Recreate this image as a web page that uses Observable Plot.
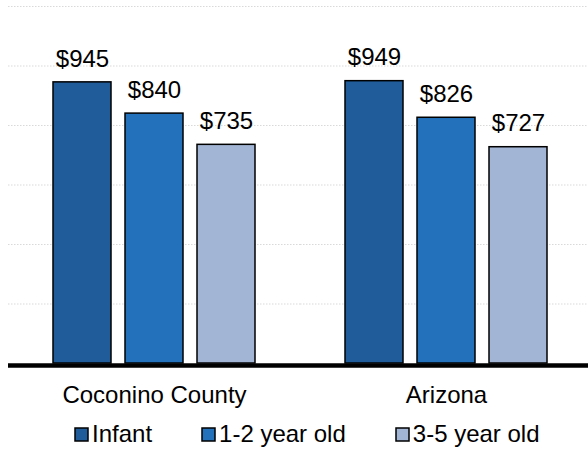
<!DOCTYPE html>
<html>
<head>
<meta charset="utf-8">
<script src="https://cdn.jsdelivr.net/npm/d3@7"></script>
<script src="https://cdn.jsdelivr.net/npm/@observablehq/plot@0.6"></script>
<style>
  html, body { margin: 0; padding: 0; background: #fff; }
  #chart > svg { display: block; }
  .lg-swatches {
    font-family: "Liberation Sans", Arial, sans-serif !important;
    font-size: 24px !important;
    color: #000 !important;
    margin: 5px 0 0 75px !important;
    min-height: 0 !important;
    line-height: normal !important;
    flex-wrap: nowrap !important;
    white-space: nowrap !important;
  }
  .lg-swatch { margin-right: 50px !important; }
  .lg-swatch:last-child { margin-right: 0 !important; }
  .lg-swatch > svg { margin-right: 4px !important; overflow: visible !important; }
  .lg-swatch rect { stroke: #000; stroke-width: 1.5px; }
</style>
</head>
<body>
<div id="chart"></div>
<script>
const regions = ["Coconino County", "Arizona"];
const ageGroups = ["Infant", "1-2 year old", "3-5 year old"];
const infantCost = [945, 949];
const toddlerCost = [840, 826];
const preschoolCost = [735, 727];
const gridTicks = [200, 400, 600, 800, 1000, 1200];
const colors = ["#1F5C99", "#2271BA", "#A3B5D5"];

const seriesValues = [infantCost, toddlerCost, preschoolCost];
const rows = [];
regions.forEach((region, i) => {
  ageGroups.forEach((age, j) => {
    rows.push({region, age, cost: seriesValues[j][i]});
  });
});

const chart = Plot.plot({
  width: 588,
  height: 415,
  marginTop: 6,
  marginBottom: 52,
  marginLeft: 8,
  marginRight: 0,
  style: {
    fontFamily: "Liberation Sans, Arial, sans-serif",
    fontSize: "24px",
    color: "#000",
    background: "#fff"
  },
  fx: {
    domain: regions,
    range: [8, 592],
    padding: 0,
    axis: "bottom",
    tickSize: 0,
    tickPadding: 22,
    label: null
  },
  x: {
    domain: ageGroups,
    range: [52, 256],
    paddingInner: 0.2,
    paddingOuter: 0,
    axis: null
  },
  y: {
    domain: [0, 1200],
    axis: null
  },
  color: {
    domain: ageGroups,
    range: colors
  },
  marks: [
    Plot.ruleY(gridTicks, {stroke: "#d9d9d9", strokeWidth: 1, strokeDasharray: "1.5,1.5"}),
    Plot.barY(rows, {
      fx: "region",
      x: "age",
      y: "cost",
      fill: "age",
      stroke: "#000",
      strokeWidth: 1.5
    }),
    Plot.text(rows, {
      fx: "region",
      x: "age",
      y: "cost",
      text: d => "$" + d.cost,
      dy: -23.5,
      fontSize: 24,
      fill: "#000"
    }),
    Plot.ruleY([0], {stroke: "#000", strokeWidth: 4.5, dy: 2})
  ]
});

document.getElementById("chart").appendChild(chart);

const legend = Plot.legend({
  color: {domain: ageGroups, range: colors},
  legend: "swatches",
  swatchSize: 13,
  className: "lg"
});
document.getElementById("chart").appendChild(legend);
</script>
</body>
</html>
